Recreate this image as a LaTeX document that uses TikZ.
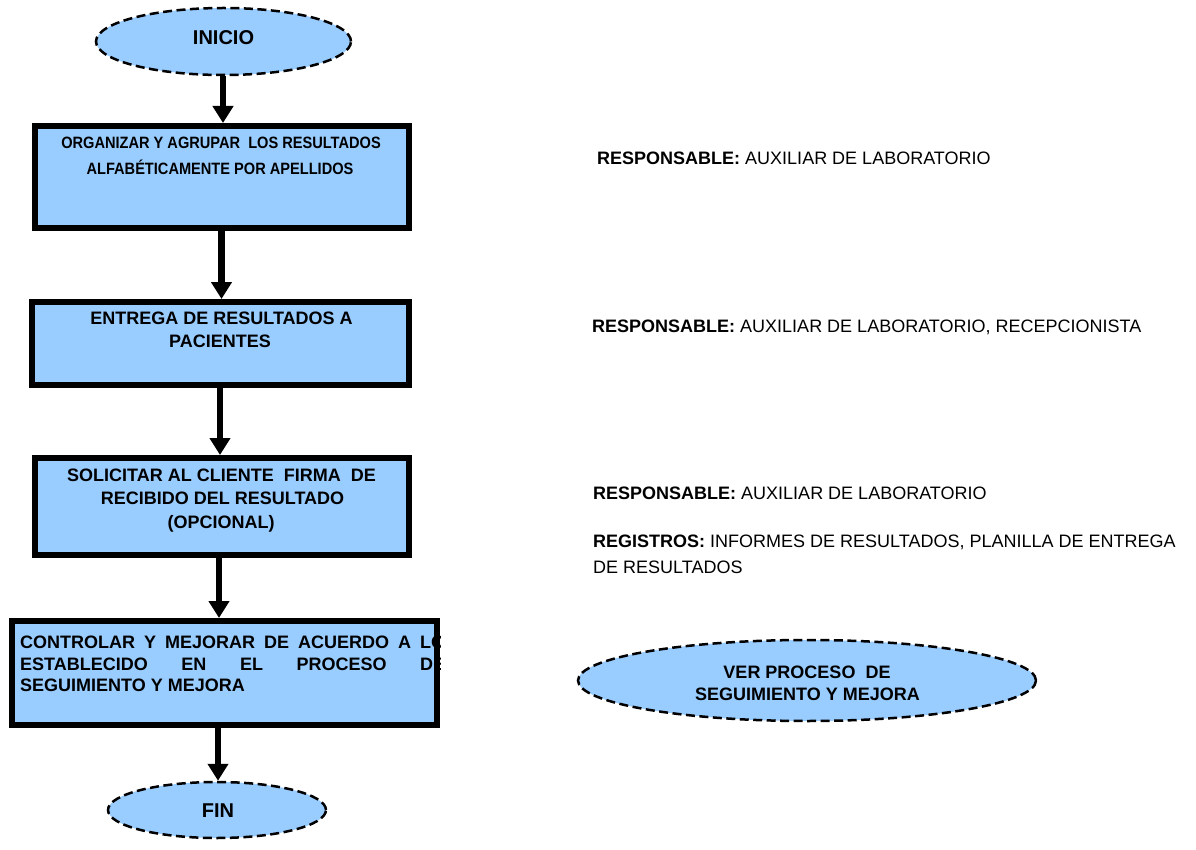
\documentclass[tikz,border=0pt]{standalone}
\usepackage{fontspec}
\setmainfont{Liberation Sans}
\newfontfamily\condfont[FakeStretch=0.89]{Liberation Sans}
\usetikzlibrary{shapes.geometric,arrows.meta}
\definecolor{boxblue}{HTML}{99CCFF}
\tikzset{
  procbox/.style={draw=black, fill=boxblue, line width=6pt, rectangle, inner sep=0pt},
  termnode/.style={draw=black, fill=boxblue, line width=2.5pt, dash pattern=on 9pt off 4.5pt, ellipse, inner sep=0pt},
  arr/.style={line width=6.5pt, -{Triangle[length=17pt,width=20pt]}},
  lbl/.style={inner sep=0pt, anchor=base, font=\fontsize{18}{21}\selectfont\bfseries},
  lblc/.style={inner sep=0pt, anchor=base, font=\fontsize{16.4}{19}\selectfont\condfont\bfseries},
  lbll/.style={inner sep=0pt, anchor=base west, font=\fontsize{18}{21}\selectfont\bfseries},
  side/.style={inner sep=0pt, anchor=base west, font=\fontsize{18}{21}\selectfont},
  term/.style={inner sep=0pt, anchor=base, font=\fontsize{20}{24}\selectfont\bfseries}
}
\begin{document}
\begin{tikzpicture}[x=1pt,y=-1pt]
\useasboundingbox (0,0) rectangle (1196,850);
% terminals
\node[termnode, minimum width=255pt, minimum height=67pt] (inicio) at (223.5,41.5) {};
\node[term] (tinicio) at (223.5,44.7) {INICIO};
\node[termnode, minimum width=218pt, minimum height=56pt] (fin) at (217,810) {};
\node[term] (tfin) at (218,817.2) {FIN};
% boxes
\node[procbox, minimum width=374pt, minimum height=102pt] (b1) at (222,177) {};
\node[lblc] (t1a) at (221,148.7) {ORGANIZAR Y AGRUPAR\ \ LOS RESULTADOS};
\node[lblc] (t1b) at (220,174.7) {ALFABÉTICAMENTE POR APELLIDOS};

\node[procbox, minimum width=377pt, minimum height=83pt] (b2) at (220.5,343.5) {};
\node[lbl] (t2a) at (221.5,324.4) {ENTREGA DE RESULTADOS A};
\node[lbl] (t2b) at (220,347.4) {PACIENTES};

\node[procbox, minimum width=374pt, minimum height=97pt] (b3) at (222,506.5) {};
\node[lbl] (t3a) at (221.5,481.4) {SOLICITAR AL CLIENTE\ \ FIRMA\ \ DE};
\node[lbl] (t3b) at (222.5,504.4) {RECIBIDO DEL RESULTADO};
\node[lbl] (t3c) at (221,528.4) {(OPCIONAL)};

\node[procbox, minimum width=425pt, minimum height=104pt] (b4) at (224.5,673) {};
\begin{scope}
\clip (b4.north west) rectangle (b4.south east);
\node[lbll] (t4a) at (20,648.4) {\makebox[425pt][s]{CONTROLAR Y MEJORAR DE ACUERDO A LO}};
\node[lbll] (t4b) at (20,670.4) {\makebox[425pt][s]{ESTABLECIDO EN EL PROCESO DE}};
\node[lbll] (t4c) at (20,691.4) {SEGUIMIENTO Y MEJORA};
\end{scope}
\draw[line width=6pt] (b4.north west) ++(3,3) rectangle ([shift={(-3,-3)}]b4.south east);

% side ellipse
\node[termnode, minimum width=458pt, minimum height=81pt] (ver) at (807,680.5) {};
\node[lbl] (tver1) at (807,678.4) {VER PROCESO\ \ DE};
\node[lbl] (tver2) at (807.5,700.4) {SEGUIMIENTO Y MEJORA};

% side texts
\node[side] (r1) at (597,164.4) {\textbf{RESPONSABLE:} AUXILIAR DE LABORATORIO};
\node[side] (r2) at (592,332.4) {\textbf{RESPONSABLE:} AUXILIAR DE LABORATORIO, RECEPCIONISTA};
\node[side] (r3) at (593,499.4) {\textbf{RESPONSABLE:} AUXILIAR DE LABORATORIO};
\node[side] (r4) at (593,547.4) {\textbf{REGISTROS:} INFORMES DE RESULTADOS, PLANILLA DE ENTREGA};
\node[side] (r5) at (593,573.4) {DE RESULTADOS};

% arrows
\coordinate (a1) at (223,0);
\coordinate (a2) at (221.5,0);
\coordinate (a3) at (220,0);
\coordinate (a4) at (219,0);
\coordinate (a5) at (218,0);
\draw[arr] (inicio.south -| a1) -- (b1.north -| a1);
\draw[arr] (b1.south -| a2) -- (b2.north -| a2);
\draw[arr] (b2.south -| a3) -- (b3.north -| a3);
\draw[arr] (b3.south -| a4) -- (b4.north -| a4);
\draw[arr] (b4.south -| a5) -- (fin.north -| a5);
\end{tikzpicture}
\end{document}
